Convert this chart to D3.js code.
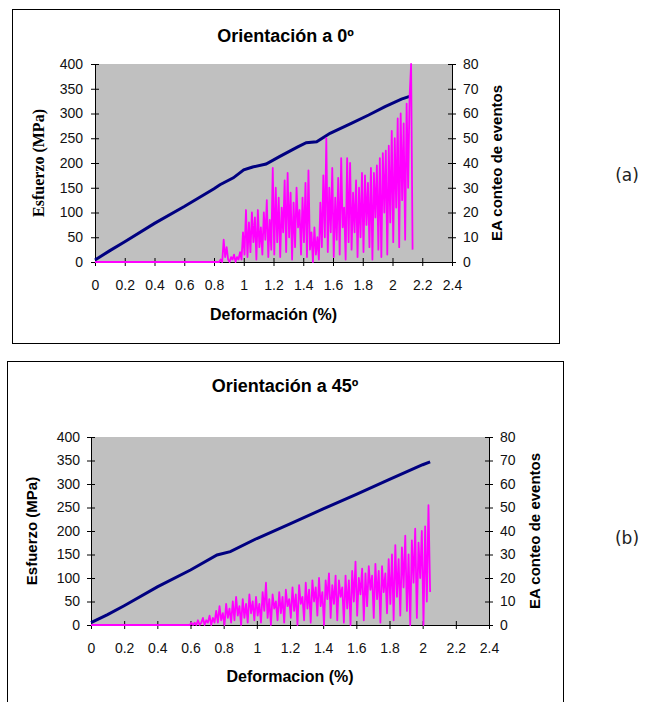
<!DOCTYPE html>
<html>
<head>
<meta charset="utf-8">
<script src="https://cdn.jsdelivr.net/npm/d3@7"></script>
<style>
  body { margin: 0; background: #fff; }
  svg { display: block; }
</style>
</head>
<body>
<div id="chart"></div>
<script>
// axis ticks shared by both panels
const strainTicks = [0, 0.2, 0.4, 0.6, 0.8, 1, 1.2, 1.4, 1.6, 1.8, 2, 2.2, 2.4];
const stressTicks = [0, 50, 100, 150, 200, 250, 300, 350, 400];
const eventTicks = [0, 10, 20, 30, 40, 50, 60, 70, 80];

// (a) orientation 0 deg : [strain %, stress MPa]
const stressA = [[0, 4], [0.1, 23], [0.2, 41], [0.4, 78], [0.6, 112], [0.8, 148], [0.84, 156],
  [0.93, 170], [1.0, 186], [1.06, 192], [1.15, 198], [1.24, 213], [1.36, 232], [1.42, 241],
  [1.49, 243], [1.58, 260], [1.73, 281], [1.84, 297], [1.95, 314], [2.06, 329], [2.12, 335]];

// AE event counts, sampled every 0.01 % strain from 0.835 (zero before that)
const eventStartA = 0.835;
const eventStepA = 0.01;
const eventsA = [
  0, 1, 0, 9, 2, 6, 1, 0, 2, 1, 3, 0, 2, 1, 4, 1,
  12, 3, 21, 2, 16, 4, 20, 8, 18, 1,
  21, 6, 14, 3, 20, 9, 25, 2, 17, 5,
  38, 3, 30, 8, 26, 2, 22, 12, 33, 4,
  36, 10, 28, 1, 24, 6, 30, 14, 21, 3,
  26, 8, 32, 2, 37, 5, 12, 0, 14, 3,
  10, 1, 24, 6, 35, 10, 50, 4, 30, 12,
  38, 2, 26, 9, 34, 3, 42, 14, 22, 1,
  42, 8, 40, 5, 28, 12, 33, 2, 30, 10,
  36, 4, 35, 15, 32, 6, 38, 1, 36, 18,
  39, 5, 42, 2, 44, 20, 45, 3, 47, 16,
  53, 8, 50, 22, 58, 6, 60, 25, 56, 9,
  64, 30, 67, 80, 5];

// (b) orientation 45 deg
const stressB = [[0, 5], [0.1, 22], [0.2, 41], [0.4, 81], [0.6, 117], [0.76, 149], [0.84, 156],
  [1.0, 184], [1.2, 215], [1.4, 247], [1.6, 278], [1.8, 310], [2.0, 341], [2.045, 347]];

const eventStartB = 0.595;
const eventStepB = 0.01;
const eventsB = [
  0, 1, 0, 1, 0, 2, 0, 1, 3, 0, 2, 1, 4, 0, 3, 1,
  6, 1, 8, 2, 5, 0, 9, 3, 7, 1,
  10, 2, 12, 4, 8, 0, 11, 3, 9, 1,
  13, 5, 10, 2, 12, 4, 9, 1, 14, 6,
  18, 3, 11, 0, 13, 7, 10, 2, 14, 5,
  12, 1, 15, 8, 11, 3, 16, 6, 13, 0,
  17, 9, 12, 2, 18, 7, 15, 1, 19, 10,
  16, 4, 20, 8, 14, 0, 19, 11, 22, 3,
  17, 9, 21, 2, 19, 12, 16, 1, 21, 7,
  19, 0, 23, 10, 27, 4, 20, 13, 24, 2,
  22, 8, 25, 15, 21, 3, 26, 11, 23, 1,
  25, 14, 22, 5, 28, 9, 30, 2, 34, 12,
  28, 4, 33, 16, 38, 6, 30, 0, 36, 18,
  41, 3, 35, 20, 40, 0, 42, 10, 51, 14];

const width = 657;
const height = 702;
const sans = "'Liberation Sans', Arial, sans-serif";

const svg = d3
  .select("#chart")
  .append("svg")
  .attr("width", width)
  .attr("height", height)
  .attr("viewBox", [0, 0, width, height]);

drawPanel({
  box: { x: 12, y: 9, w: 547, h: 334 },
  plot: { l: 95, t: 64, r: 452, b: 262 },
  title: "Orientación a 0º", titleY: 42,
  xTitle: "Deformación (%)", xTitleY: 320,
  yTitle: "Esfuerzo (MPa)", yTitleX: 44, yTitleFont: "'Liberation Serif', 'Times New Roman', serif", yTitleSize: 16,
  y2TitleX: 502,
  leftPad: 8, rightPad: 7,
  tag: "(a)", tagY: 181,
  stress: stressA,
  events: [[0, 0]].concat(eventsA.map((v, i) => [eventStartA + i * eventStepA, v])),
});

drawPanel({
  box: { x: 7, y: 361, w: 556, h: 400 },
  plot: { l: 91, t: 437, r: 489, b: 625 },
  title: "Orientación a 45º", titleY: 392,
  xTitle: "Deformacion (%)", xTitleY: 682,
  yTitle: "Esfuerzo (MPa)", yTitleX: 37, yTitleFont: sans, yTitleSize: 15,
  y2TitleX: 540,
  leftPad: 7, rightPad: 7,
  tag: "(b)", tagY: 544,
  stress: stressB,
  events: [[0, 0]].concat(eventsB.map((v, i) => [eventStartB + i * eventStepB, v])),
});

function drawPanel(p) {
  const g = svg.append("g");

  // chart frame
  g.append("rect")
    .attr("x", p.box.x + 0.5)
    .attr("y", p.box.y + 0.5)
    .attr("width", p.box.w)
    .attr("height", p.box.h)
    .attr("fill", "white")
    .attr("stroke", "black")
    .attr("stroke-width", 1);

  const x = d3.scaleLinear().domain([0, 2.4]).range([p.plot.l, p.plot.r]);
  const y = d3.scaleLinear().domain([0, 400]).range([p.plot.b, p.plot.t]);
  const y2 = d3.scaleLinear().domain([0, 80]).range([p.plot.b, p.plot.t]);

  // grey plot area
  g.append("rect")
    .attr("x", p.plot.l)
    .attr("y", p.plot.t)
    .attr("width", p.plot.r - p.plot.l)
    .attr("height", p.plot.b - p.plot.t)
    .attr("fill", "#c0c0c0");

  const styleAxis = (a) => {
    a.attr("font-family", sans).attr("font-size", 14);
    a.selectAll("text").attr("fill", "#111");
    a.selectAll("path, line").attr("stroke", "black");
  };

  g.append("g")
    .attr("transform", `translate(0,${p.plot.b})`)
    .call(d3.axisBottom(x).tickValues(strainTicks).tickFormat((d) => d).tickSizeInner(4).tickSizeOuter(0).tickPadding(14))
    .call(styleAxis)
    .call((a) => a.selectAll(".tick line").attr("y1", -4));

  g.append("g")
    .attr("transform", `translate(${p.plot.l},0)`)
    .call(d3.axisLeft(y).tickValues(stressTicks).tickSizeInner(4).tickSizeOuter(0).tickPadding(p.leftPad))
    .call(styleAxis)
    .call((a) => a.selectAll(".tick line").attr("x1", 4));

  g.append("g")
    .attr("transform", `translate(${p.plot.r},0)`)
    .call(d3.axisRight(y2).tickValues(eventTicks).tickSizeInner(4).tickSizeOuter(0).tickPadding(p.rightPad))
    .call(styleAxis)
    .call((a) => a.selectAll(".tick line").attr("x1", -4));

  // stress-strain curve
  g.append("path")
    .datum(p.stress)
    .attr("fill", "none")
    .attr("stroke", "#000080")
    .attr("stroke-width", 3)
    .attr("d", d3.line().x((d) => x(d[0])).y((d) => y(d[1])));

  // acoustic emission counts
  g.append("path")
    .datum(p.events)
    .attr("fill", "none")
    .attr("stroke", "#ff00ff")
    .attr("stroke-width", 1.8)
    .attr("stroke-linejoin", "round")
    .attr("d", d3.line().x((d) => x(d[0])).y((d) => y2(d[1])));

  const cx = p.box.x + p.box.w / 2;
  const cy = (p.plot.t + p.plot.b) / 2;

  g.append("text")
    .attr("x", cx)
    .attr("y", p.titleY)
    .attr("text-anchor", "middle")
    .attr("font-family", sans)
    .attr("font-weight", "bold")
    .attr("font-size", 18)
    .text(p.title);

  g.append("text")
    .attr("x", (p.plot.l + p.plot.r) / 2)
    .attr("y", p.xTitleY)
    .attr("text-anchor", "middle")
    .attr("font-family", sans)
    .attr("font-weight", "bold")
    .attr("font-size", 16)
    .text(p.xTitle);

  g.append("text")
    .attr("transform", `translate(${p.yTitleX},${cy}) rotate(-90)`)
    .attr("text-anchor", "middle")
    .attr("font-family", p.yTitleFont)
    .attr("font-weight", "bold")
    .attr("font-size", p.yTitleSize)
    .text(p.yTitle);

  g.append("text")
    .attr("transform", `translate(${p.y2TitleX},${cy}) rotate(-90)`)
    .attr("text-anchor", "middle")
    .attr("font-family", sans)
    .attr("font-weight", "bold")
    .attr("font-size", 15)
    .text("EA conteo de eventos");

  g.append("text")
    .attr("x", 627)
    .attr("y", p.tagY)
    .attr("text-anchor", "middle")
    .attr("font-family", "'DejaVu Sans', sans-serif")
    .attr("font-size", 17)
    .attr("fill", "#222")
    .text(p.tag);
}
</script>
</body>
</html>
